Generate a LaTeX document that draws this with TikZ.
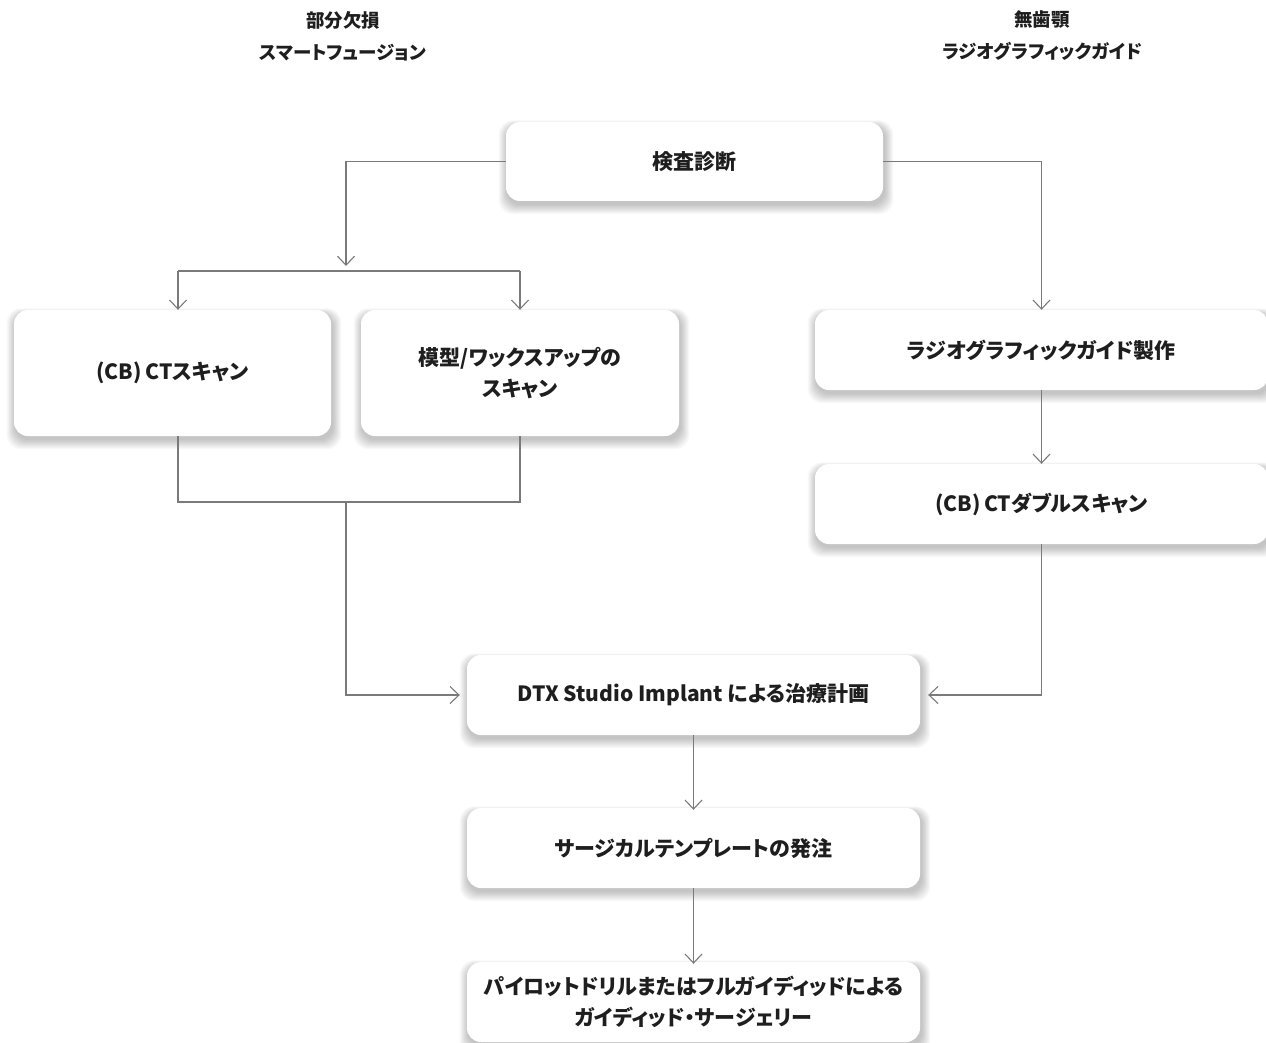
\documentclass[tikz,border=0pt]{standalone}
\usepackage{fontspec}
\newfontfamily\jp{Noto Sans CJK JP}[RawFeature=+palt]
\usetikzlibrary{arrows.meta}
\pgfdeclarelayer{background}
\pgfsetlayers{background,main}
\definecolor{lineg}{HTML}{7A7A7A}
\definecolor{txt}{HTML}{1E1E1E}
\begin{document}
\begin{tikzpicture}[x=1pt,y=-1pt,
  box/.style={draw=none,fill=white,rounded corners=14pt,align=center,
    font=\jp\bfseries\fontsize{21}{31}\selectfont,text=txt,inner sep=0pt},
  head/.style={align=center,font=\jp\bfseries\fontsize{18.5}{32}\selectfont,text=txt},
  conn/.style={draw=lineg,line width=1.1pt},
  arr/.style={conn,-{Straight Barb[length=9pt,width=17pt,line width=1.1pt]}}]
\useasboundingbox (0,0) rectangle (1266,1043);
% headers
\node[head] (h1) at (343,36) {部分欠損\\スマートフュージョン};
\node[head] (h2) at (1042,36) {無歯顎\\ラジオグラフィックガイド};
% boxes
\node[box,minimum width=377pt,minimum height=79pt] (diag) at (694.5,161.5) {検査診断};
\node[box,minimum width=317pt,minimum height=126pt] (ct) at (172.5,373) {(CB)\,CTスキャン};
\node[box,minimum width=318pt,minimum height=126pt] (model) at (520,373) {模型/ワックスアップの\\スキャン};
\node[box,minimum width=453pt,minimum height=80pt] (rg) at (1041.5,350) {ラジオグラフィックガイド製作};
\node[box,minimum width=453pt,minimum height=80pt] (dbl) at (1041.5,504) {(CB)\,CTダブルスキャン};
\node[box,minimum width=453pt,minimum height=80pt] (plan) at (693.5,695) {DTX Studio Implant による治療計画};
\node[box,minimum width=453pt,minimum height=80pt] (order) at (693.5,848) {サージカルテンプレートの発注};
\node[box,minimum width=453pt,minimum height=80pt] (surg) at (693.5,1002) {パイロットドリルまたはフルガイディッドによる\\ガイディッド・サージェリー};
% background and soft shadows
\begin{pgfonlayer}{background}
\fill[white] (0,0) rectangle (1266,1043);
\foreach \n in {diag,ct,model,rg,dbl,plan,order,surg}{
  \foreach \i in {0,...,9}{
    \fill[black,opacity=0.022,rounded corners=14pt]
      ([shift={(-\i*0.9+1,-\i*0.6+4)}]\n.north west) rectangle ([shift={(\i*0.9+2,\i*1.0+4)}]\n.south east);
  }
}
\end{pgfonlayer}
% helper coordinates
\coordinate (j1) at (346,266);
\coordinate (bl) at (178,271);
\coordinate (br) at (520,271);
\coordinate (lj) at (346,502);
% connectors
\draw[arr] (diag.west) -| (j1);
\draw[conn] (bl) -- (br);
\draw[arr] (bl) -- (bl |- ct.north);
\draw[arr] (br) -- (br |- model.north);
\draw[arr] (diag.east) -| (rg.north);
\draw[arr] (rg.south) -- (dbl.north);
\draw[arr] (dbl.south) |- ([xshift=8pt]plan.east);
\draw[conn] (bl |- ct.south) |- (lj) -| (model.south);
\draw[arr] (lj) |- ([xshift=-7pt]plan.west);
\draw[arr] (plan.south) -- ([yshift=-2pt]order.north);
\draw[arr] (order.south) -- ([yshift=-2pt]surg.north);
\end{tikzpicture}
\end{document}
